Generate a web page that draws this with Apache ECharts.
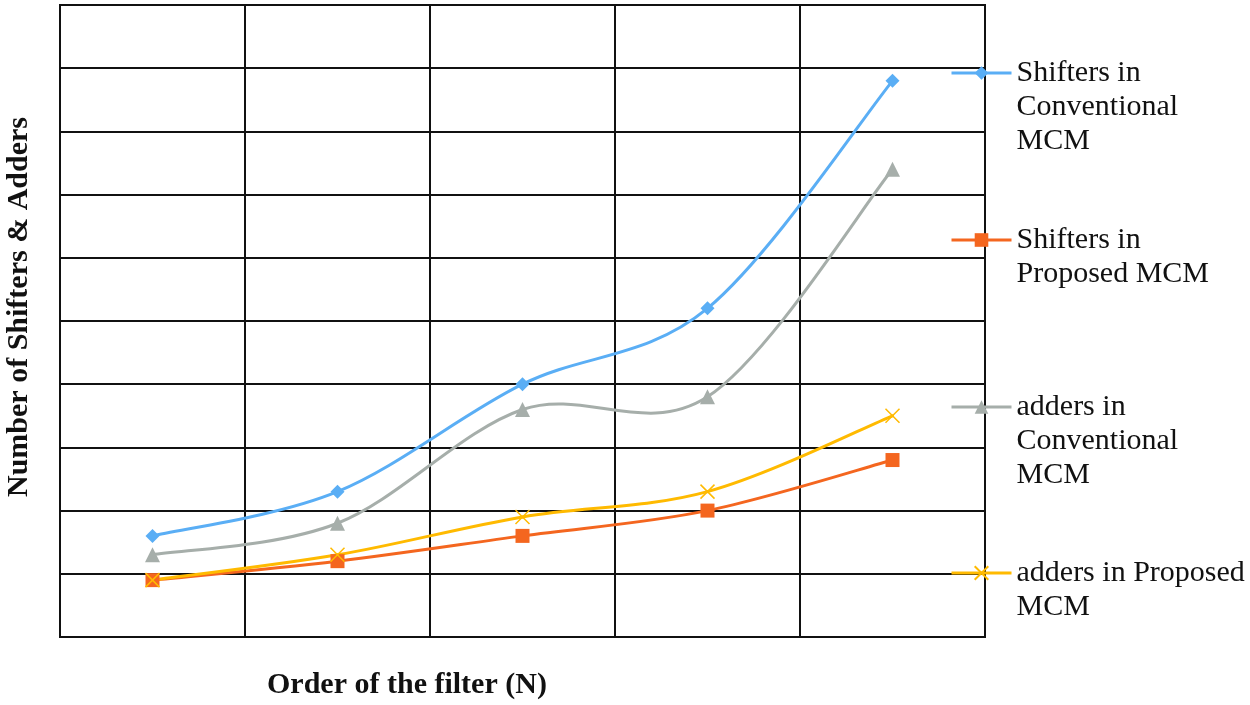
<!DOCTYPE html>
<html>
<head>
<meta charset="utf-8">
<script src="https://cdn.jsdelivr.net/npm/echarts@6/dist/echarts.min.js"></script>
<style>
html,body{margin:0;padding:0;background:#fff;}
#chart{width:1250px;height:705px;}
</style>
</head>
<body>
<div id="chart"></div>
<script>
// ---- data ----
const categories = ['1', '2', '3', '4', '5'];
const seriesNames = [
  'Shifters in Conventional MCM',
  'Shifters in Proposed MCM',
  'adders in Conventional MCM',
  'adders in Proposed MCM'
];
const legendLabels = [
  'Shifters in\nConventional\nMCM',
  'Shifters in\nProposed MCM',
  'adders in\nConventional\nMCM',
  'adders in Proposed\nMCM'
];
const shiftersConventional = [1.6, 2.3, 4.0, 5.2, 8.8];
const shiftersProposed = [0.9, 1.2, 1.6, 2.0, 2.8];
const addersConventional = [1.3, 1.8, 3.6, 3.8, 7.4];
const addersProposed = [0.9, 1.3, 1.9, 2.3, 3.5];
const xTitle = 'Order of the filter (N)';
const yTitle = 'Number of Shifters & Adders';

const colors = ['#5AAEF5', '#F4661F', '#A6AEAA', '#FFBA00'];
const FONT = '"Liberation Serif", "Times New Roman", serif';

const chart = echarts.init(document.getElementById('chart'), null, {renderer: 'canvas'});

// Excel-like Catmull-Rom spline drawn through the axes (api.coord)
function curveSeries(i, vals) {
  const n = vals.length;
  return {
    name: seriesNames[i] + ' (curve)',
    type: 'custom',
    data: vals.map((v, k) => [k, v]),
    encode: {x: 0, y: 1},
    silent: true,
    animation: false,
    renderItem: function (params, api) {
      const k = params.dataIndex;
      if (k >= n - 1) return null;
      const c = j => {
        const jj = Math.max(0, Math.min(n - 1, j));
        return api.coord([jj, vals[jj]]);
      };
      const p0 = c(k - 1), p1 = c(k), p2 = c(k + 1), p3 = c(k + 2);
      return {
        type: 'bezierCurve',
        shape: {
          x1: p1[0], y1: p1[1], x2: p2[0], y2: p2[1],
          cpx1: p1[0] + (p2[0] - p0[0]) / 6, cpy1: p1[1] + (p2[1] - p0[1]) / 6,
          cpx2: p2[0] - (p3[0] - p1[0]) / 6, cpy2: p2[1] - (p3[1] - p1[1]) / 6
        },
        style: {stroke: colors[i], lineWidth: 3, fill: null, lineCap: 'round'}
      };
    }
  };
}

function markerSeries(i, data, symbol, size, extra) {
  return Object.assign({
    name: seriesNames[i],
    type: 'line',
    data: data,
    symbol: symbol,
    symbolSize: size,
    showSymbol: true,
    lineStyle: {color: colors[i], width: 3, opacity: 0},
    itemStyle: {color: colors[i]},
    animation: false
  }, extra || {});
}

// legend: blank leading lines so that the icon sits on the first text line
const legendIconY = [73, 240, 407, 573];
const LH = 34;
const legends = legendLabels.map((lab, i) => {
  const n = lab.split('\n').length;
  const txt = '\n'.repeat(n - 1) + lab;
  const boxH = (2 * n - 1) * LH;
  return {
    data: [seriesNames[i]],
    orient: 'vertical',
    left: 950,
    top: legendIconY[i] - boxH / 2,
    padding: 0,
    itemWidth: 60,
    itemHeight: 17,
    selectedMode: false,
    lineStyle: {width: 3, opacity: 1},
    formatter: function () { return txt; },
    textStyle: {
      fontFamily: FONT,
      fontSize: 30,
      lineHeight: LH,
      color: '#111'
    }
  };
});

const option = {
  backgroundColor: '#fff',
  animation: false,
  title: {
    text: xTitle,
    left: 267,
    top: 670,
    padding: 0,
    textStyle: {fontFamily: FONT, fontSize: 30, fontWeight: 'bold', color: '#111'}
  },
  legend: legends,
  grid: {
    left: 60, right: 265, top: 5, bottom: 68,
    show: true, borderColor: '#111', borderWidth: 2,
    containLabel: false, outerBoundsMode: 'none'
  },
  xAxis: {
    type: 'category',
    data: categories,
    boundaryGap: true,
    axisLine: {show: true, lineStyle: {color: '#111', width: 2}},
    axisTick: {show: false},
    axisLabel: {show: false},
    splitLine: {show: true, lineStyle: {color: '#111', width: 2}}
  },
  yAxis: {
    type: 'value',
    min: 0, max: 10, interval: 1,
    name: yTitle,
    nameLocation: 'middle',
    nameGap: 26,
    nameTextStyle: {fontFamily: FONT, fontSize: 30, fontWeight: 'bold', color: '#111', padding: [0, 0, 0, 28]},
    axisLine: {show: true, lineStyle: {color: '#111', width: 2}},
    axisTick: {show: false},
    axisLabel: {show: false},
    splitLine: {show: true, lineStyle: {color: '#111', width: 2}}
  },
  series: [
    curveSeries(0, shiftersConventional),
    markerSeries(0, shiftersConventional, 'diamond', 14),
    curveSeries(1, shiftersProposed),
    markerSeries(1, shiftersProposed, 'rect', 14),
    curveSeries(2, addersConventional),
    markerSeries(2, addersConventional, 'triangle', 15),
    curveSeries(3, addersProposed),
    markerSeries(3, addersProposed, 'path://M0,0L10,10M10,0L0,10', 14, {
      itemStyle: {color: 'none', borderColor: colors[3], borderWidth: 1.5}
    })
  ]
};
chart.setOption(option);
</script>
</body>
</html>
